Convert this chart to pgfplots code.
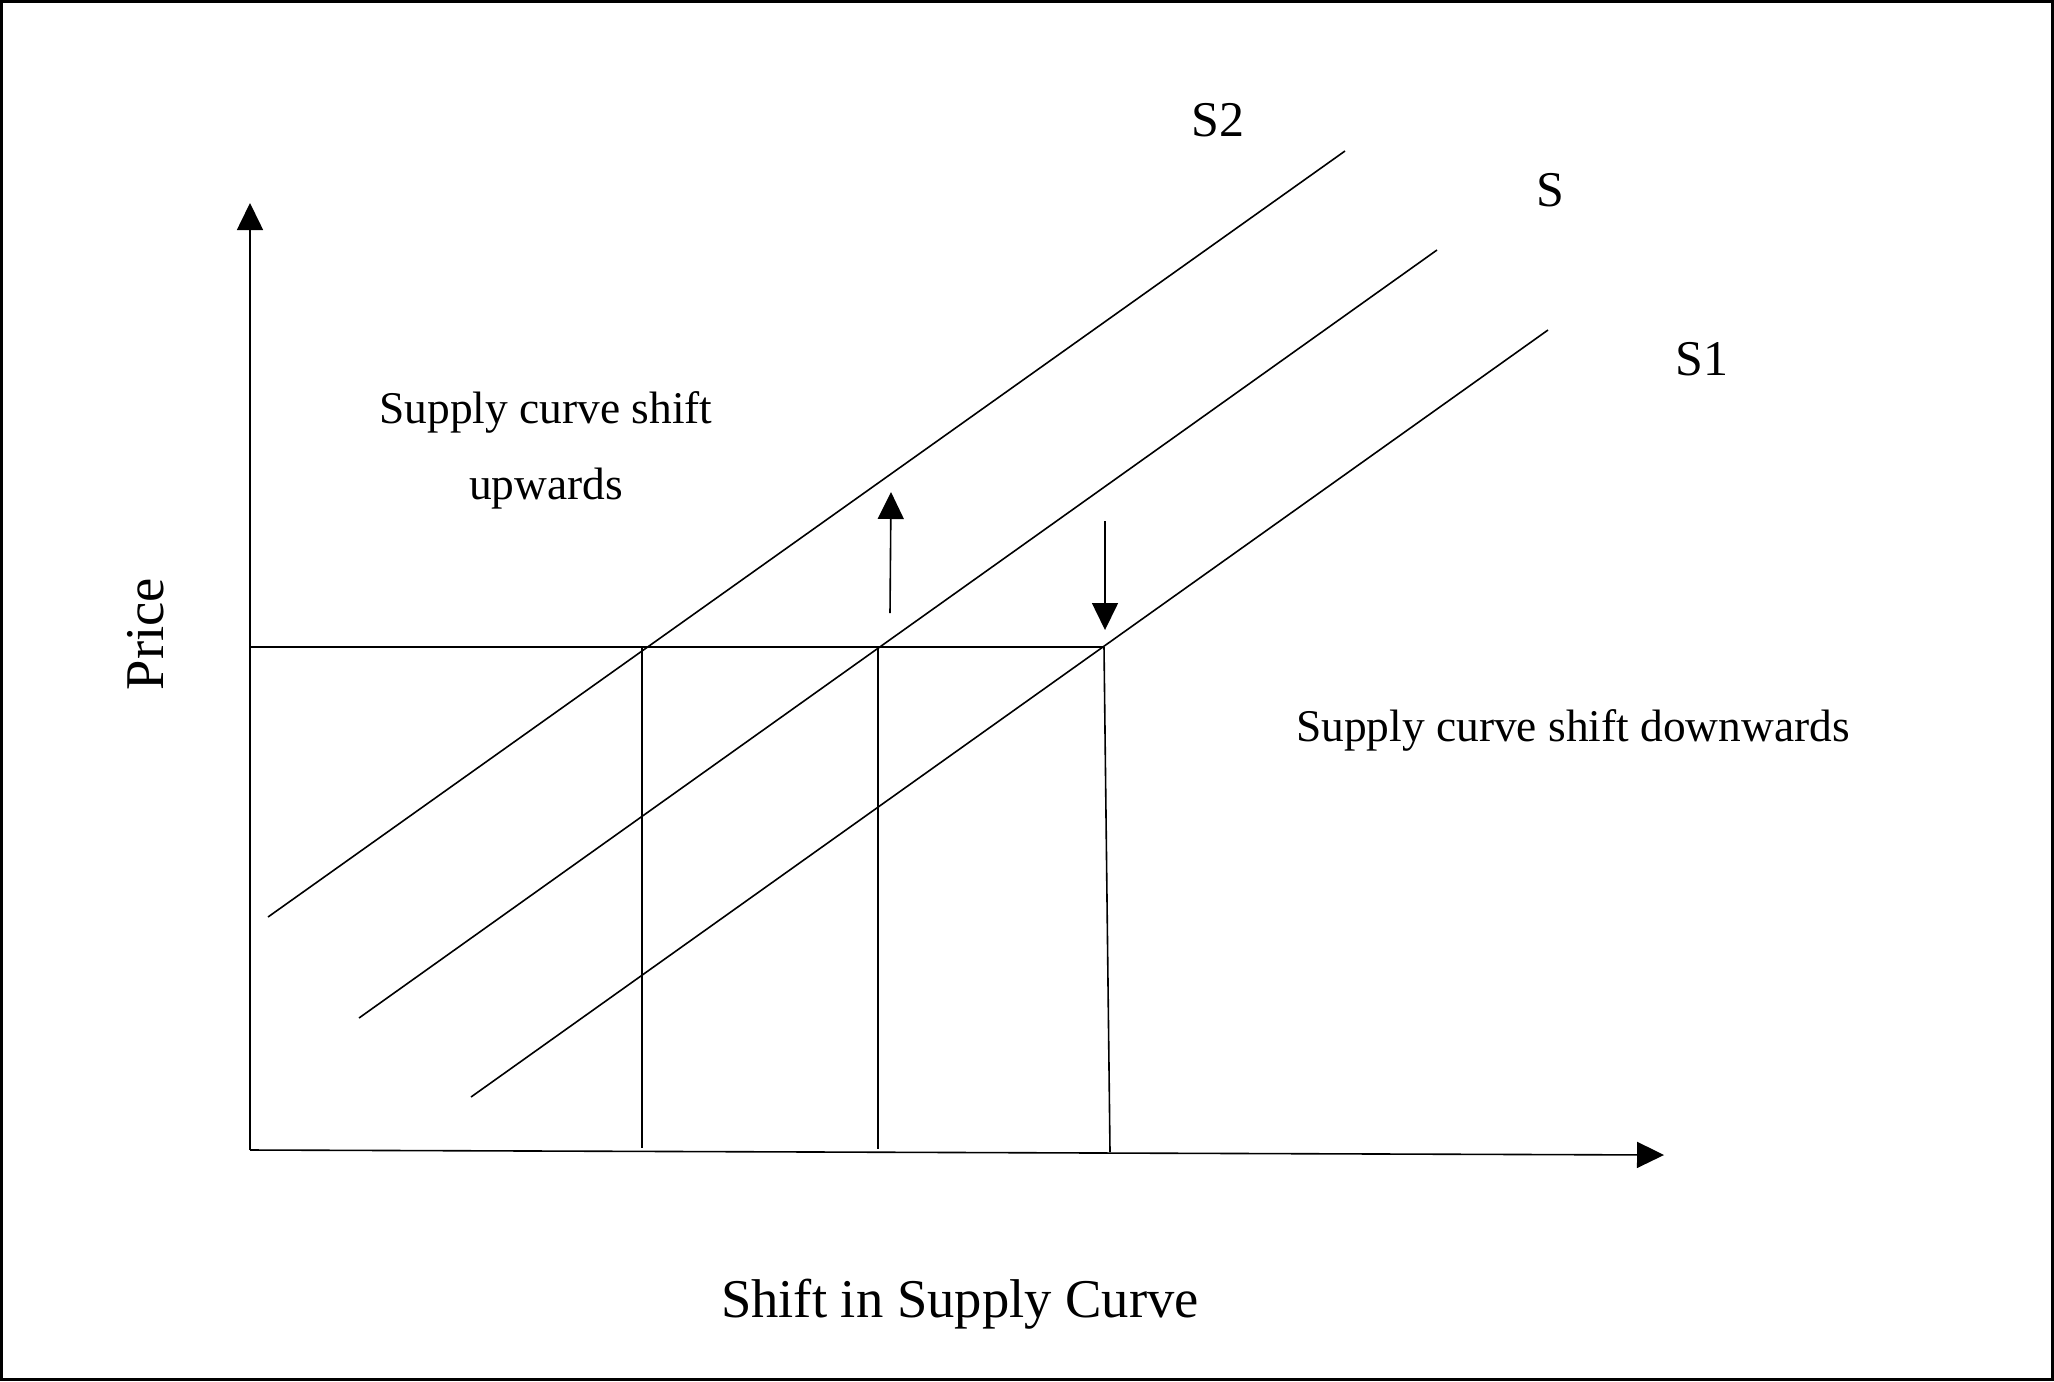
\documentclass[border=0pt]{standalone}
\usepackage{pgfplots}
\pgfplotsset{compat=1.18}
\usetikzlibrary{arrows.meta}
\usepackage{fontspec}
\setmainfont{Liberation Serif}

% one unit = one pixel of a 2054 x 1381 canvas, 0.25pt per unit
\pgfplotstableread{
x y
268 917
1345 151
}\supplyup
\pgfplotstableread{
x y
359 1018
1437 250
}\supply
\pgfplotstableread{
x y
471 1097
1548 330
}\supplydown

\tikzset{
  ln/.style={black, line width=0.4pt, mark=none, solid},
  arr/.style={ln, -{Triangle[length=6.75pt,width=6.5pt]}},
}

\begin{document}
\begin{tikzpicture}
\begin{axis}[
  width=513.5pt, height=345.25pt, scale only axis,
  xmin=0, xmax=2054, ymin=0, ymax=1381,
  y dir=reverse,
  hide axis, clip=false,
]
% outer frame
\draw[line width=0.75pt] (axis cs:1.5,1.5) rectangle (axis cs:2052.5,1379.5);

% axes with arrow heads
\addplot[arr] coordinates {(250,1150) (250,203)};
\addplot[arr] coordinates {(250,1150) (1664,1155)};

% supply curves
\addplot[ln] table {\supplyup};
\addplot[ln] table {\supply};
\addplot[ln] table {\supplydown};

% price level and quantities
\addplot[ln] coordinates {(250,647) (1104,647)};
\addplot[ln] coordinates {(642,647) (642,1148)};
\addplot[ln] coordinates {(878,647) (878,1149)};
\addplot[ln] coordinates {(1104,647) (1110,1152)};

% shift arrows
\addplot[arr] coordinates {(890,613) (891,492)};
\addplot[arr] coordinates {(1105,521) (1105,630)};

% labels
\node[anchor=base, font=\fontsize{12.5pt}{15pt}\selectfont] at (axis cs:1218,136) {S2};
\node[anchor=base, font=\fontsize{12.5pt}{15pt}\selectfont] at (axis cs:1550,206) {S};
\node[anchor=base, font=\fontsize{12.5pt}{15pt}\selectfont] at (axis cs:1702,375) {S1};
\node[anchor=base, font=\fontsize{11.35pt}{14pt}\selectfont] at (axis cs:546,423) {Supply curve shift};
\node[anchor=base, font=\fontsize{11.35pt}{14pt}\selectfont] at (axis cs:546,499) {upwards};
\node[anchor=base, font=\fontsize{11.35pt}{14pt}\selectfont] at (axis cs:1573,741) {Supply curve shift downwards};
\node[anchor=base, font=\fontsize{13.65pt}{16pt}\selectfont] at (axis cs:960,1317) {Shift in Supply Curve};
\node[anchor=base, rotate=90, font=\fontsize{13.65pt}{16pt}\selectfont] at (axis cs:163,634) {Price};
\end{axis}
\end{tikzpicture}
\end{document}
